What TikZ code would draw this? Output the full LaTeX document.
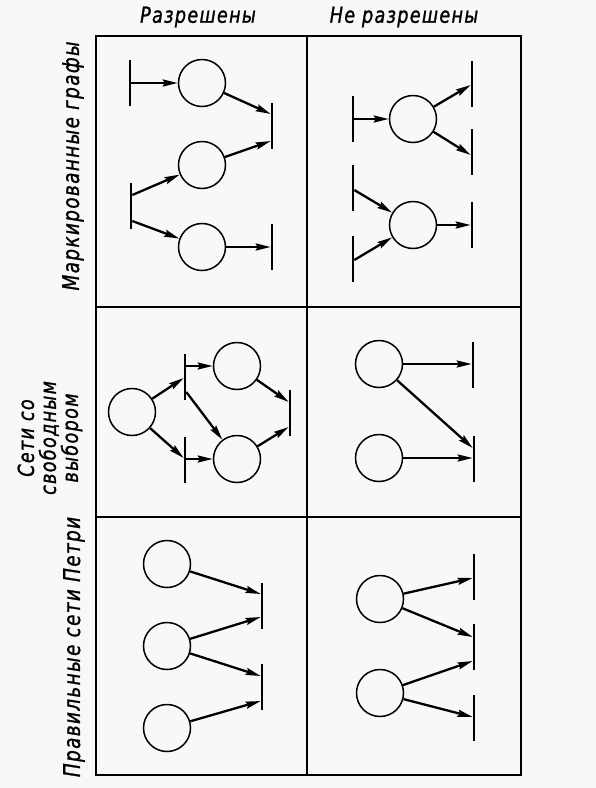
\documentclass[tikz,border=0pt]{standalone}
\usepackage{fontspec}
\newfontfamily\lab[FakeStretch=0.8,FakeBold=1.2,LetterSpace=6]{DejaVu Sans}
\usetikzlibrary{arrows.meta}
\definecolor{bg}{RGB}{248,248,250}
\begin{document}
\begin{tikzpicture}[x=1pt,y=-1pt,
  place/.style={circle,draw,line width=1.5pt,minimum size=47pt,inner sep=0pt},
  trans/.style={rectangle,fill=black,inner sep=0pt,minimum width=2.2pt,minimum height=46pt},
  arr/.style={line width=2.3pt,-{Stealth[length=15pt,width=7pt,inset=2pt]}},
  grid/.style={line width=1.6pt},
  head/.style={font=\lab\itshape\fontsize{22}{24}\selectfont,inner sep=0pt},
  side/.style={font=\lab\itshape\fontsize{23}{23}\selectfont,inner sep=0pt,rotate=90,align=center},
  side3/.style={font=\lab\itshape\fontsize{22}{22}\selectfont,inner sep=0pt,rotate=90,align=center}]
\fill[bg] (0,0) rectangle (596,788);
\useasboundingbox (0,0) rectangle (596,788);
% grid
\draw[line width=2pt] (96,36) rectangle (521,775);
\draw[grid] (307,36) -- (307,775);
\draw[grid] (96,307) -- (521,307);
\draw[grid] (96,517) -- (521,517);
% headers
\node[head] (h1) at (198,17) {Разрешены};
\node[head] (h2) at (404,17) {Не разрешены};
\node[side] (s1) at (73,166) {Маркированные графы};
\node[side3] (s2) at (50,438) {Сети со\\свободным\\выбором};
\node[side] (s3) at (74,647) {Правильные сети Петри};
% ---- cell 1,1
\node[place] (p1) at (202,83) {};
\node[place] (p2) at (202,165) {};
\node[place] (p3) at (202,247) {};
\node[trans] (t1) at (130,83) {};
\node[trans] (t2) at (272,126) {};
\node[trans] (t3) at (131,206) {};
\node[trans] (t4) at (272,247) {};
\draw[arr] (t1.east) -- (p1);
\draw[arr] (p1) -- ([yshift=12pt]t2.west);
\draw[arr] (p2) -- ([yshift=-15pt]t2.west);
\draw[arr] ([yshift=11pt]t3.east) -- (p2);
\draw[arr] ([yshift=-15pt]t3.east) -- (p3);
\draw[arr] (p3) -- (t4.west);
% ---- cell 1,2
\node[place] (p4) at (413,119) {};
\node[place] (p5) at (413,225) {};
\node[trans] (t5) at (353,119) {};
\node[trans] (t6) at (472,84) {};
\node[trans] (t7) at (472,152) {};
\node[trans] (t8) at (353,188) {};
\node[trans] (t9) at (353,259) {};
\node[trans] (t10) at (472,225) {};
\draw[arr] (t5.east) -- (p4);
\draw[arr] (p4) -- ([yshift=-1pt]t6.west);
\draw[arr] (p4) -- ([yshift=-3pt]t7.west);
\draw[arr] ([yshift=-2pt]t8.east) -- (p5);
\draw[arr] ([yshift=-1pt]t9.east) -- (p5);
\draw[arr] (p5) -- (t10.west);
% ---- cell 2,1
\node[place] (p6) at (132,412) {};
\node[place] (p7) at (237,366) {};
\node[place] (p8) at (237,459) {};
\node[trans] (t11) at (185,377) {};
\node[trans] (t12) at (185,460) {};
\node[trans] (t13) at (290,413) {};
\draw[arr] (p6) -- ([yshift=-1pt]t11.west);
\draw[arr] (p6) -- ([yshift=2pt]t12.west);
\draw[arr] ([yshift=11pt]t11.east) -- (p7);
\draw[arr] ([yshift=-15pt]t11.east) -- (p8);
\draw[arr] ([yshift=1pt]t12.east) -- (p8);
\draw[arr] (p7) -- ([yshift=11pt]t13.west);
\draw[arr] (p8) -- ([yshift=-14pt]t13.west);
% ---- cell 2,2
\node[place] (p9) at (379,364) {};
\node[place] (p10) at (379,458) {};
\node[trans] (t14) at (473,365) {};
\node[trans] (t15) at (474,459) {};
\draw[arr] (p9) -- ([yshift=1pt]t14.west);
\draw[arr] (p10) -- ([yshift=1pt]t15.west);
\draw[arr] (p9) -- ([yshift=11pt]t15.west);
% ---- cell 3,1
\node[place] (p11) at (167,564) {};
\node[place] (p12) at (167,646) {};
\node[place] (p13) at (167,728) {};
\node[trans] (t16) at (262,606) {};
\node[trans] (t17) at (262,687) {};
\draw[arr] (p11) -- ([yshift=12pt]t16.west);
\draw[arr] (p12) -- ([yshift=-11pt]t16.west);
\draw[arr] (p12) -- ([yshift=11pt]t17.west);
\draw[arr] (p13) -- ([yshift=-14pt]t17.west);
% ---- cell 3,2
\node[place] (p14) at (380,599) {};
\node[place] (p15) at (380,693) {};
\node[trans] (t18) at (474,577) {};
\node[trans] (t19) at (474,647) {};
\node[trans] (t20) at (474,718) {};
\draw[arr] (p14) -- ([yshift=-1pt]t18.west);
\draw[arr] (p14) -- ([yshift=10pt]t19.west);
\draw[arr] (p15) -- ([yshift=-14pt]t19.west);
\draw[arr] (p15) -- ([yshift=1pt]t20.west);
\end{tikzpicture}
\end{document}
